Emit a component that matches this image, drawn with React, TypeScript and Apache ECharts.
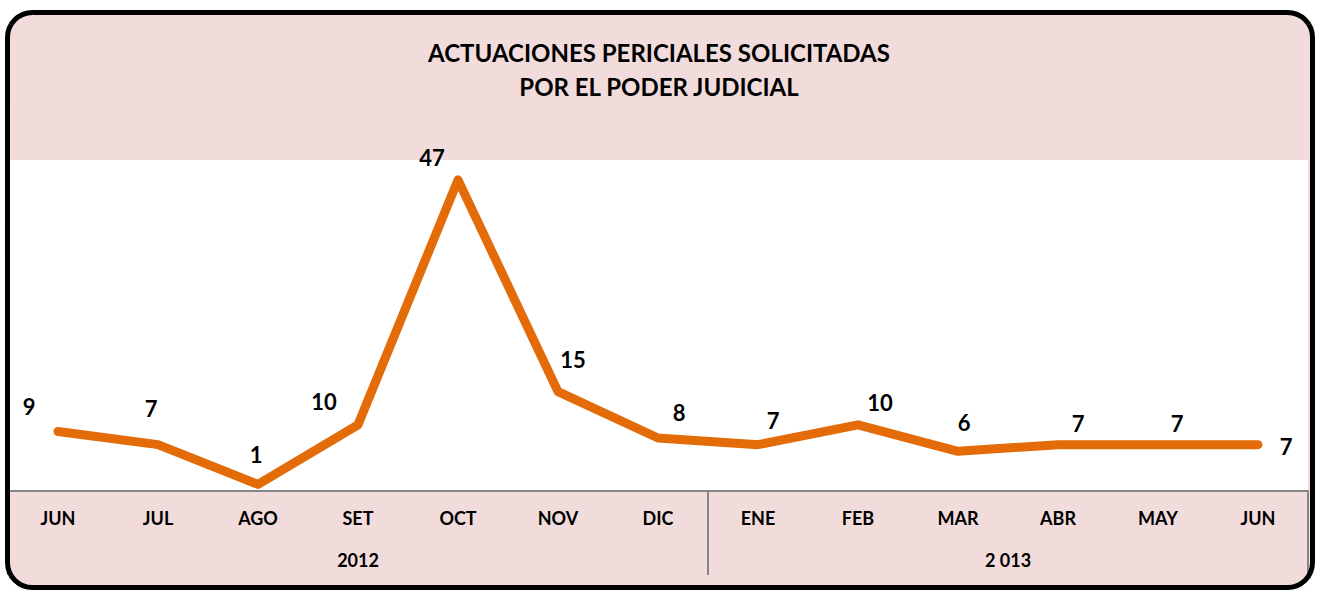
import React, { useEffect, useRef } from "react";
import * as echarts from "echarts";

const months = ["JUN", "JUL", "AGO", "SET", "OCT", "NOV", "DIC", "ENE", "FEB", "MAR", "ABR", "MAY", "JUN"];
const values = [9, 7, 1, 10, 47, 15, 8, 7, 10, 6, 7, 7, 7];
const yearGroups = [
  { name: "2012", count: 7 },
  { name: "2 013", count: 6 },
];
const titleLines = ["ACTUACIONES PERICIALES SOLICITADAS", "POR EL PODER JUDICIAL"];

// label placement offsets (px) relative to each point
const labelOffsets: [number, number][] = [
  [-29, -25], [-7, -36], [-2, -30], [-34, -23], [-26, -22], [15, -32], [21, -26],
  [15, -24], [22, -22], [6, -29], [20, -21], [19, -21], [28, 2],
];

const FONT = "Lato";

export default function App() {
  const ref = useRef<HTMLDivElement>(null);
  useEffect(() => {
    if (!ref.current) return;
    const chart = echarts.init(ref.current, undefined, { renderer: "svg" });
    const bounds: number[] = [0];
    const centers: number[] = [];
    let acc = 0;
    yearGroups.forEach((g) => {
      centers.push(acc + g.count / 2);
      acc += g.count;
      bounds.push(acc);
    });
    const centerNames: Record<string, string> = {};
    centers.forEach((c, i) => (centerNames[String(c)] = yearGroups[i].name));

    chart.setOption({
      animation: false,
      backgroundColor: "transparent",
      title: {
        text: titleLines.join("\n"),
        left: "center",
        top: 30,
        textStyle: { fontFamily: FONT, fontWeight: "bold", fontSize: 24, color: "#000", lineHeight: 34 },
      },
      graphic: [
        {
          type: "rect",
          z: -10,
          silent: true,
          shape: { x: 7.5, y: 12.5, width: 1305, height: 575, r: 25 },
          style: { fill: "#F2DCDB", stroke: "none" },
        },
        {
          type: "rect",
          z: 100,
          silent: true,
          shape: { x: 7.5, y: 12.5, width: 1305, height: 575, r: 25 },
          style: { fill: "none", stroke: "#000", lineWidth: 5 },
        },
      ],
      grid: {
        left: 8,
        right: 10,
        top: 160,
        bottom: 99,
        show: true,
        backgroundColor: "#fff",
        borderWidth: 0,
      },
      xAxis: [
        {
          type: "category",
          data: months,
          boundaryGap: true,
          axisLine: { show: true, lineStyle: { color: "#868686", width: 2 } },
          axisTick: { show: false },
          axisLabel: {
            interval: 0,
            margin: 18,
            fontFamily: FONT,
            fontWeight: "bold",
            fontSize: 18,
            color: "#000",
          },
        },
        {
          type: "value",
          position: "bottom",
          min: 0,
          max: months.length,
          axisLine: { show: false },
          splitLine: { show: false },
          axisTick: {
            show: true,
            customValues: bounds,
            length: 84,
            lineStyle: { color: "#868686", width: 2 },
          },
          axisLabel: {
            customValues: centers,
            margin: 60,
            formatter: (v: number) => centerNames[String(v)] || "",
            fontFamily: FONT,
            fontWeight: "bold",
            fontSize: 18,
            color: "#000",
          },
        },
      ],
      yAxis: {
        type: "value",
        min: 0,
        max: 50,
        show: false,
        splitLine: { show: false },
      },
      series: [
        {
          type: "line",
          xAxisIndex: 0,
          data: values.map((v, i) => ({
            value: v,
            label: { offset: labelOffsets[i] },
          })),
          symbol: "circle",
          symbolSize: 1,
          itemStyle: { color: "#E36C09" },
          lineStyle: { color: "#E36C09", width: 9, cap: "round", join: "round" },
          label: {
            show: true,
            position: "inside",
            fontFamily: FONT,
            fontWeight: "bold",
            fontSize: 22,
            color: "#000",
          },
        },
      ],
    });
    return () => chart.dispose();
  }, []);
  return (
    <div
      ref={ref}
      style={{ position: "absolute", left: 0, top: 0, width: 1318, height: 590, background: "#fff" }}
    />
  );
}
